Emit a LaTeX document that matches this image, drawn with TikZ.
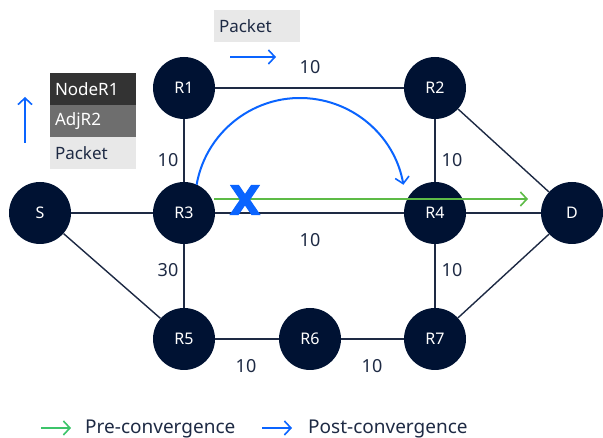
\documentclass[tikz,border=0pt]{standalone}
\usepackage{fontspec}
\setmainfont{Noto Sans}
\newfontfamily\heavyfont[FakeBold=2.5]{DejaVu Sans}
\usetikzlibrary{arrows.meta}
\definecolor{navy}{HTML}{001233}
\definecolor{edgec}{HTML}{1E2A44}
\definecolor{postblue}{HTML}{0A64FF}
\definecolor{pregreen}{HTML}{5DBB46}
\definecolor{legreen}{HTML}{3CC46A}
\definecolor{boxlight}{HTML}{E8E8E8}
\definecolor{boxdark}{HTML}{333333}
\definecolor{boxmid}{HTML}{6E6E6E}
\definecolor{txt}{HTML}{1E2A44}
\tikzset{
  router/.style={circle, fill=navy, minimum size=62pt, inner sep=0pt, text=white, font=\fontsize{16}{18}\selectfont},
  link/.style={draw=edgec, line width=1.4pt},
  cost/.style={text=txt, font=\fontsize{18}{20}\selectfont, inner sep=0pt},
  hdr/.style={minimum width=86pt, minimum height=31.5pt, inner sep=0pt, anchor=center, font=\fontsize{17}{19}\selectfont, text width=76pt, align=left},
  tip/.style={-{Straight Barb[length=6.5pt,width=14pt,line width=1.6pt]}},
  post/.style={tip, draw=postblue, line width=2pt},
  pre/.style={tip, draw=pregreen, line width=2pt},
  legtext/.style={text=txt, anchor=west, font=\fontsize{19}{21}\selectfont, inner sep=0pt}
}
\begin{document}
\begin{tikzpicture}[x=1pt, y=1pt]
\useasboundingbox (0,0) rectangle (603,438);

\path (40,225) coordinate (pS) (184,350) coordinate (p1) (435,350) coordinate (p2)
      (184,225) coordinate (p3) (435,225) coordinate (p4) (572,225) coordinate (pD)
      (184,99) coordinate (p5) (310,99) coordinate (p6) (435,99) coordinate (p7);

% routers
\node[router] (S)  at (pS) {S};
\node[router] (R1) at (p1) {R1};
\node[router] (R2) at (p2) {R2};
\node[router] (R3) at (p3) {R3};
\node[router] (R4) at (p4) {R4};
\node[router] (D)  at (pD) {D};
\node[router] (R5) at (p5) {R5};
\node[router] (R6) at (p6) {R6};
\node[router] (R7) at (p7) {R7};

% links between routers
\foreach \a/\b in {S/R3, S/R5, R1/R2, R1/R3, R3/R4, R3/R5, R2/R4, R2/D, R4/D, R4/R7, R5/R6, R6/R7, R7/D}
  \draw[link] (\a) -- (\b);

% link costs
\node[cost] (c12) at (310,371) {10};
\node[cost] (c13) at (168,278) {10};
\node[cost] (c24) at (452,278) {10};
\node[cost] (c34) at (310,198) {10};
\node[cost] (c35) at (168,168) {30};
\node[cost] (c47) at (452,168) {10};
\node[cost] (c56) at (246,72)  {10};
\node[cost] (c67) at (372,72)  {10};

% original path R3 -> D
\coordinate (g0) at (214,239);
\coordinate (g1) at (528,239);
\draw[pre] (g0) -- (g1);

% repaired path over R1/R2
\draw[post] (300,235) ++(170:105) arc[start angle=170, end angle=10, radius=105];

% failed link
\node[text=postblue, font=\heavyfont\bfseries\fontsize{40}{42}\selectfont, inner sep=0pt] (fail) at (245,238) {X};

% plain packet heading east
\node[hdr, fill=boxlight, text=txt] (pkt) at (257,412) {Packet};
\coordinate (pa0) at (230,381);
\coordinate (pa1) at (276,381);
\draw[post] (pa0) -- (pa1);

% encapsulated packet heading north
\node[hdr, fill=boxdark, text=white] (hn) at (93,349) {NodeR1};
\node[hdr, fill=boxmid, text=white, anchor=north] (ha) at (hn.south) {AdjR2};
\node[hdr, fill=boxlight, text=txt, anchor=north] (hp) at (ha.south) {Packet};
\coordinate (ua0) at (25,295);
\coordinate (ua1) at (25,341);
\draw[post] (ua0) -- (ua1);

% legend
\coordinate (l0) at (41,10);
\coordinate (l1) at (71,10);
\draw[tip, draw=legreen, line width=1.6pt] (l0) -- (l1);
\node[legtext] (lpre) at (85,9) {Pre-convergence};
\coordinate (l2) at (262,10);
\coordinate (l3) at (292,10);
\draw[tip, draw=postblue, line width=1.6pt] (l2) -- (l3);
\node[legtext] (lpost) at (308,9) {Post-convergence};
\end{tikzpicture}
\end{document}
